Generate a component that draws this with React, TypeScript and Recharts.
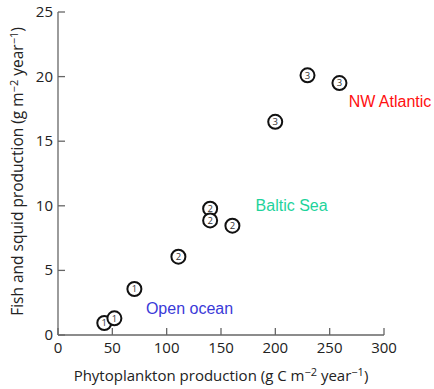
import React from "react";
import { ScatterChart, Scatter, XAxis, YAxis, ReferenceDot } from "recharts";

const phytoProduction = [42.6, 51.9, 70.3, 110.8, 140, 140, 160.5, 199.9, 229.6, 259];
const fishProduction = [0.93, 1.29, 3.56, 6.06, 9.78, 8.87, 8.46, 16.5, 20.1, 19.5];
const groupId = [1, 1, 1, 2, 2, 2, 2, 3, 3, 3];

const xTicks = [0, 50, 100, 150, 200, 250, 300];
const yTicks = [0, 5, 10, 15, 20, 25];

const regionNames = ["NW Atlantic", "Baltic Sea", "Open ocean"];
const regionX = [305.5, 215, 121];
const regionY = [18.1, 10.05, 2.05];
const regionColors = ["#ff1010", "#1ed39b", "#3a3ad8"];

const data = phytoProduction.map((x, i) => ({ x, y: fishProduction[i], g: groupId[i] }));

const AXIS_COLOR = "#666";
const TEXT_COLOR = "#222";
const FONT = "'Open Sans', 'DejaVu Sans', sans-serif";

const XTick = (props: any) => {
  const { x, y, payload } = props;
  return (
    <g>
      <line x1={x} y1={y} x2={x} y2={y - 7} stroke={AXIS_COLOR} strokeWidth={1.3} />
      <text x={x} y={y + 18} textAnchor="middle" fontSize={15} fontFamily={FONT} fill={TEXT_COLOR}>
        {payload.value}
      </text>
    </g>
  );
};

const YTick = (props: any) => {
  const { x, y, payload } = props;
  return (
    <g>
      <line x1={x} y1={y} x2={x + 7} y2={y} stroke={AXIS_COLOR} strokeWidth={1.3} />
      <text x={x - 5} y={y + 5} textAnchor="end" fontSize={15} fontFamily={FONT} fill={TEXT_COLOR}>
        {payload.value}
      </text>
    </g>
  );
};

const Marker = (props: any) => {
  const { cx, cy, payload } = props;
  return (
    <g>
      <circle cx={cx} cy={cy} r={7} fill="#fff" stroke="#111" strokeWidth={2} />
      <text x={cx} y={cy + 3.3} textAnchor="middle" fontSize={9.5} fontFamily={FONT} fill="#333">
        {payload.g}
      </text>
    </g>
  );
};

const XTitle = (props: any) => {
  const { viewBox } = props;
  const cx = viewBox.x + viewBox.width / 2;
  return (
    <text x={cx} y={viewBox.y + 46} textAnchor="middle" fontSize={15} fontFamily={FONT} fill={TEXT_COLOR}>
      Phytoplankton production (g C m
      <tspan dy={-5} fontSize={11}>−2</tspan>
      <tspan dy={5}> year</tspan>
      <tspan dy={-5} fontSize={11}>−1</tspan>
      <tspan dy={5}>)</tspan>
    </text>
  );
};

const YTitle = (props: any) => {
  const { viewBox } = props;
  const cy = viewBox.y + viewBox.height / 2 - 2;
  const cx = 23;
  return (
    <text
      x={cx}
      y={cy}
      transform={`rotate(-90 ${cx} ${cy})`}
      textAnchor="middle"
      fontSize={15.5}
      fontFamily={FONT}
      fill={TEXT_COLOR}
    >
      Fish and squid production (g m
      <tspan dy={-5} fontSize={11}>−2</tspan>
      <tspan dy={5}> year</tspan>
      <tspan dy={-5} fontSize={11}>−1</tspan>
      <tspan dy={5}>)</tspan>
    </text>
  );
};

export default function App() {
  return (
    <div style={{ position: "absolute", left: 0, top: 0, background: "#fff" }}>
      <ScatterChart width={434} height={389} margin={{ top: 12, right: 50, bottom: 0, left: 0 }}>
        <XAxis
          type="number"
          dataKey="x"
          domain={[0, 300]}
          ticks={xTicks}
          interval={0}
          height={54}
          tickSize={0}
          tickMargin={0}
          tickLine={false}
          axisLine={{ stroke: AXIS_COLOR, strokeWidth: 1.3 }}
          tick={<XTick />}
          label={{ content: (p: any) => <XTitle {...p} /> }}
        />
        <YAxis
          type="number"
          dataKey="y"
          domain={[0, 25]}
          ticks={yTicks}
          interval={0}
          width={58}
          tickSize={0}
          tickMargin={0}
          tickLine={false}
          axisLine={{ stroke: AXIS_COLOR, strokeWidth: 1.3 }}
          tick={<YTick />}
          label={{ content: (p: any) => <YTitle {...p} /> }}
        />
        <Scatter data={data} isAnimationActive={false} shape={<Marker />} />
        {regionNames.map((name, i) => (
          <ReferenceDot
            key={name}
            x={regionX[i]}
            y={regionY[i]}
            r={0}
            ifOverflow="visible"
            label={{
              value: name,
              position: "center",
              fill: regionColors[i],
              fontSize: 16,
              fontFamily: "'Liberation Sans', Arial, sans-serif",
            }}
          />
        ))}
      </ScatterChart>
    </div>
  );
}
